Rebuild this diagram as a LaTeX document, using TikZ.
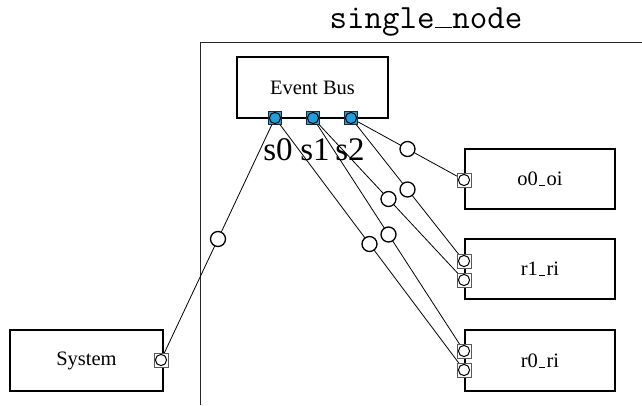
\documentclass[tikz,border=0pt]{standalone}
\usepackage{fontspec}
\setmainfont{Liberation Serif}
\usetikzlibrary{backgrounds}
% short baseline rule, as the classic \_ of LaTeX
\newcommand\lowbar{\leavevmode\kern.06em\vbox{\hrule width.3em}\kern.06em}
% baseline rule filling one typewriter cell
\newcommand\ttbar{\leavevmode\kern.02em\rule{.485em}{.035em}\kern.02em}
\definecolor{buscyan}{RGB}{28,160,222}
\begin{document}
\begin{tikzpicture}[x=1pt,y=-1pt,
  block/.style={draw, line width=2pt, fill=white, minimum width=151pt,
    minimum height=61pt, inner sep=0pt, font=\fontsize{20.5}{24}\selectfont},
  port/.style={draw=black!65, line width=1pt, fill=white, minimum size=14pt,
    inner sep=0pt, path picture={\draw[black, line width=1pt]
      (path picture bounding box.center) circle (5.6pt);}},
  busport/.style={port, draw=black!85, fill=buscyan, minimum size=13pt},
  link/.style={line width=0.8pt},
  mid/.style={circle, draw, line width=1.3pt, fill=white, minimum size=15pt, inner sep=0pt},
  portlabel/.style={anchor=base, inner sep=0pt, font=\fontsize{33}{36}\selectfont},
  frame/.style={line width=1pt, black!85}]
\useasboundingbox (0,0) rectangle (642,405);

% title and enclosing frame
\node[anchor=base, inner sep=0pt, font=\fontsize{34}{36}\ttfamily] (title) at (426,28) {single\ttbar node};
\coordinate (fr0) at (642,42);
\coordinate (fr1) at (200,42);
\coordinate (fr2) at (200,405);

% blocks
\node[block] (bus) at (312.5,87.5) {Event Bus};
\node[block, minimum width=150pt, minimum height=60pt] (o0) at (540,179) {o0\lowbar oi};
\node[block, minimum width=150pt, minimum height=60pt] (r1) at (540,269) {r1\lowbar ri};
\node[block, minimum width=150pt] (r0) at (540,360.5) {r0\lowbar ri};
\node[block, minimum width=153pt] (sys) at (86.5,360.5) {System};

% ports
\node[busport] (b0) at (275,118) {};
\node[busport] (b1) at (313,118) {};
\node[busport] (b2) at (351,118) {};
\node[port] (o0p) at (464,180) {};
\node[port] (r1a) at (464,261) {};
\node[port] (r1b) at (464,280) {};
\node[port] (r0a) at (464,351) {};
\node[port] (r0b) at (464,370) {};
\node[port] (sysp) at (161,360) {};

% bus port labels
\node[portlabel] (l0) at (278,160) {s0};
\node[portlabel] (l1) at (315,160) {s1};
\node[portlabel] (l2) at (350,160) {s2};

\begin{pgfonlayer}{background}
  \draw[frame] (fr0) -- (fr1) -- (fr2);
  \draw[link] (b0.center) -- node[mid] (m0) {} (sysp.center);
  \draw[link] (b0.center) -- node[mid] (m1) {} (r0b.center);
  \draw[link] (b1.center) -- node[mid] (m2) {} (r0a.center);
  \draw[link] (b1.center) -- node[mid] (m3) {} (r1b.center);
  \draw[link] (b2.center) -- node[mid] (m4) {} (r1a.center);
  \draw[link] (b2.center) -- node[mid] (m5) {} (o0p.center);
\end{pgfonlayer}
\end{tikzpicture}
\end{document}
